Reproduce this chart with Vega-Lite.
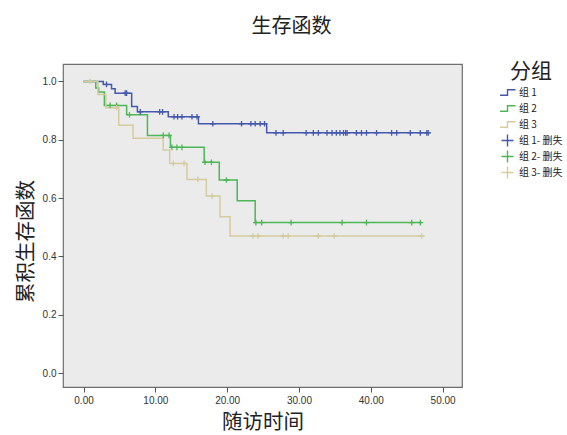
{
  "$schema": "https://vega.github.io/schema/vega-lite/v6.json",
  "width": 399,
  "height": 323,
  "autosize": "none",
  "padding": {"left": 63, "top": 64, "right": 105, "bottom": 48},
  "background": "white",
  "title": {"text": "生存函数", "fontSize": 20, "font": "Noto Sans CJK SC", "fontWeight": "normal", "color": "#222222", "anchor": "middle", "frame": "group", "dx": 29, "offset": 24},
  "config": {
    "view": {"fill": "#EBEBEB", "stroke": "#6E6E6E", "strokeWidth": 1.2},
    "font": "Liberation Sans",
    "axis": {"labelFont": "Liberation Sans", "labelFontSize": 10, "labelColor": "#333333", "tickColor": "#555555", "tickSize": 5, "domain": false, "grid": false, "titleFont": "Noto Sans CJK SC", "titleFontSize": 20.5, "titleFontWeight": "normal", "titleColor": "#222222"},
    "legend": {"titleFont": "Noto Sans CJK SC", "titleFontSize": 21, "titleFontWeight": "normal", "titleColor": "#222222", "labelFont": "Noto Sans CJK SC", "labelFontSize": 10, "labelColor": "#222222"}
  },
  "datasets": {
    "steps": [
      {"series": "组 1", "t": 0, "s": 1.0},
      {"series": "组 1", "t": 2.75, "s": 0.99},
      {"series": "组 1", "t": 3.9, "s": 0.975},
      {"series": "组 1", "t": 4.4, "s": 0.96},
      {"series": "组 1", "t": 6.7, "s": 0.914},
      {"series": "组 1", "t": 7.5, "s": 0.896},
      {"series": "组 1", "t": 11.8, "s": 0.879},
      {"series": "组 1", "t": 16.0, "s": 0.855},
      {"series": "组 1", "t": 25.5, "s": 0.824},
      {"series": "组 1", "t": 48.0, "s": 0.824},
      {"series": "组 2", "t": 0, "s": 1.0},
      {"series": "组 2", "t": 1.7, "s": 0.978},
      {"series": "组 2", "t": 2.1, "s": 0.964},
      {"series": "组 2", "t": 2.9, "s": 0.918},
      {"series": "组 2", "t": 6.0, "s": 0.886},
      {"series": "组 2", "t": 8.9, "s": 0.815},
      {"series": "组 2", "t": 12.1, "s": 0.774},
      {"series": "组 2", "t": 16.8, "s": 0.723},
      {"series": "组 2", "t": 18.9, "s": 0.662},
      {"series": "组 2", "t": 21.4, "s": 0.591},
      {"series": "组 2", "t": 23.9, "s": 0.516},
      {"series": "组 2", "t": 47.1, "s": 0.516},
      {"series": "组 3", "t": 0, "s": 1.0},
      {"series": "组 3", "t": 2.0, "s": 0.955},
      {"series": "组 3", "t": 3.1, "s": 0.91},
      {"series": "组 3", "t": 4.9, "s": 0.85},
      {"series": "组 3", "t": 6.9, "s": 0.805},
      {"series": "组 3", "t": 11.1, "s": 0.765},
      {"series": "组 3", "t": 12.0, "s": 0.719},
      {"series": "组 3", "t": 14.4, "s": 0.664},
      {"series": "组 3", "t": 17.1, "s": 0.607},
      {"series": "组 3", "t": 19.0, "s": 0.536},
      {"series": "组 3", "t": 20.4, "s": 0.47},
      {"series": "组 3", "t": 47.1, "s": 0.47}
    ],
    "censors": [
      {"series": "组 1- 删失", "t": 3.2, "s": 0.99},
      {"series": "组 1- 删失", "t": 5.8, "s": 0.96},
      {"series": "组 1- 删失", "t": 6.0, "s": 0.96},
      {"series": "组 1- 删失", "t": 7.9, "s": 0.896},
      {"series": "组 1- 删失", "t": 10.6, "s": 0.896},
      {"series": "组 1- 删失", "t": 11.0, "s": 0.896},
      {"series": "组 1- 删失", "t": 12.6, "s": 0.879},
      {"series": "组 1- 删失", "t": 13.1, "s": 0.879},
      {"series": "组 1- 删失", "t": 13.7, "s": 0.879},
      {"series": "组 1- 删失", "t": 15.1, "s": 0.879},
      {"series": "组 1- 删失", "t": 15.8, "s": 0.879},
      {"series": "组 1- 删失", "t": 18.0, "s": 0.855},
      {"series": "组 1- 删失", "t": 22.0, "s": 0.855},
      {"series": "组 1- 删失", "t": 23.3, "s": 0.855},
      {"series": "组 1- 删失", "t": 23.9, "s": 0.855},
      {"series": "组 1- 删失", "t": 24.6, "s": 0.855},
      {"series": "组 1- 删失", "t": 25.2, "s": 0.855},
      {"series": "组 1- 删失", "t": 26.8, "s": 0.824},
      {"series": "组 1- 删失", "t": 27.8, "s": 0.824},
      {"series": "组 1- 删失", "t": 31.0, "s": 0.824},
      {"series": "组 1- 删失", "t": 32.0, "s": 0.824},
      {"series": "组 1- 删失", "t": 32.7, "s": 0.824},
      {"series": "组 1- 删失", "t": 33.9, "s": 0.824},
      {"series": "组 1- 删失", "t": 34.6, "s": 0.824},
      {"series": "组 1- 删失", "t": 35.2, "s": 0.824},
      {"series": "组 1- 删失", "t": 35.7, "s": 0.824},
      {"series": "组 1- 删失", "t": 36.2, "s": 0.824},
      {"series": "组 1- 删失", "t": 36.5, "s": 0.824},
      {"series": "组 1- 删失", "t": 36.7, "s": 0.824},
      {"series": "组 1- 删失", "t": 38.0, "s": 0.824},
      {"series": "组 1- 删失", "t": 38.7, "s": 0.824},
      {"series": "组 1- 删失", "t": 39.4, "s": 0.824},
      {"series": "组 1- 删失", "t": 40.8, "s": 0.824},
      {"series": "组 1- 删失", "t": 42.9, "s": 0.824},
      {"series": "组 1- 删失", "t": 43.6, "s": 0.824},
      {"series": "组 1- 删失", "t": 45.5, "s": 0.824},
      {"series": "组 1- 删失", "t": 46.9, "s": 0.824},
      {"series": "组 1- 删失", "t": 47.8, "s": 0.824},
      {"series": "组 1- 删失", "t": 48.0, "s": 0.824},
      {"series": "组 2- 删失", "t": 3.7, "s": 0.918},
      {"series": "组 2- 删失", "t": 4.6, "s": 0.918},
      {"series": "组 2- 删失", "t": 6.4, "s": 0.886},
      {"series": "组 2- 删失", "t": 11.1, "s": 0.815},
      {"series": "组 2- 删失", "t": 11.9, "s": 0.815},
      {"series": "组 2- 删失", "t": 12.3, "s": 0.774},
      {"series": "组 2- 删失", "t": 13.0, "s": 0.774},
      {"series": "组 2- 删失", "t": 13.7, "s": 0.774},
      {"series": "组 2- 删失", "t": 16.9, "s": 0.723},
      {"series": "组 2- 删失", "t": 17.8, "s": 0.723},
      {"series": "组 2- 删失", "t": 19.9, "s": 0.662},
      {"series": "组 2- 删失", "t": 24.0, "s": 0.516},
      {"series": "组 2- 删失", "t": 24.8, "s": 0.516},
      {"series": "组 2- 删失", "t": 28.9, "s": 0.516},
      {"series": "组 2- 删失", "t": 36.0, "s": 0.516},
      {"series": "组 2- 删失", "t": 39.4, "s": 0.516},
      {"series": "组 2- 删失", "t": 45.7, "s": 0.516},
      {"series": "组 2- 删失", "t": 46.9, "s": 0.516},
      {"series": "组 3- 删失", "t": 0.9, "s": 1.0},
      {"series": "组 3- 删失", "t": 4.6, "s": 0.91},
      {"series": "组 3- 删失", "t": 12.5, "s": 0.719},
      {"series": "组 3- 删失", "t": 14.0, "s": 0.719},
      {"series": "组 3- 删失", "t": 15.9, "s": 0.664},
      {"series": "组 3- 删失", "t": 17.9, "s": 0.607},
      {"series": "组 3- 删失", "t": 23.6, "s": 0.47},
      {"series": "组 3- 删失", "t": 24.3, "s": 0.47},
      {"series": "组 3- 删失", "t": 27.8, "s": 0.47},
      {"series": "组 3- 删失", "t": 28.5, "s": 0.47},
      {"series": "组 3- 删失", "t": 32.7, "s": 0.47},
      {"series": "组 3- 删失", "t": 34.9, "s": 0.47},
      {"series": "组 3- 删失", "t": 47.1, "s": 0.47}
    ]
  },
  "encoding": {
    "x": {"field": "t", "type": "quantitative", "scale": {"domain": [-2.86, 52.7], "nice": false, "zero": false},
      "axis": {"values": [0, 10, 20, 30, 40, 50], "format": ".2f", "title": "随访时间", "titlePadding": 7, "labelPadding": 3}},
    "y": {"field": "s", "type": "quantitative", "scale": {"domain": [-0.048, 1.06], "nice": false, "zero": false},
      "axis": {"values": [0, 0.2, 0.4, 0.6, 0.8, 1.0], "format": ".1f", "title": "累积生存函数", "titlePadding": 6, "titleY": 177, "labelPadding": 2}},
    "color": {"field": "series", "type": "nominal",
      "scale": {"domain": ["组 1", "组 2", "组 3", "组 1- 删失", "组 2- 删失", "组 3- 删失"], "range": ["#4459AB", "#4DB656", "#D5CB9E", "#4459AB", "#4DB656", "#D5CB9E"]},
      "legend": {"title": "分组", "orient": "none", "legendX": 437, "legendY": -3, "titleAnchor": "middle", "titlePadding": 4, "symbolSize": 180, "rowPadding": 3, "clipHeight": 13, "labelOffset": 4, "symbolStrokeWidth": 1.4}}
  },
  "layer": [
    {"data": {"name": "steps"}, "mark": {"type": "line", "interpolate": "step-after", "strokeWidth": 1.5}},
    {"data": {"name": "censors"}, "mark": {"type": "point", "filled": false, "strokeWidth": 1.3, "size": 40, "opacity": 1},
      "encoding": {"shape": {"field": "series", "type": "nominal",
        "scale": {"domain": ["组 1", "组 2", "组 3", "组 1- 删失", "组 2- 删失", "组 3- 删失"], "range": ["M-1.2,0.4L0,0.4L0,-0.4L1.2,-0.4", "M-1.2,0.4L0,0.4L0,-0.4L1.2,-0.4", "M-1.2,0.4L0,0.4L0,-0.4L1.2,-0.4", "M-0.9,0L0.9,0M0,-0.9L0,0.9", "M-0.9,0L0.9,0M0,-0.9L0,0.9", "M-0.9,0L0.9,0M0,-0.9L0,0.9"]},
        "legend": {"title": "分组"}}}}
  ]
}
